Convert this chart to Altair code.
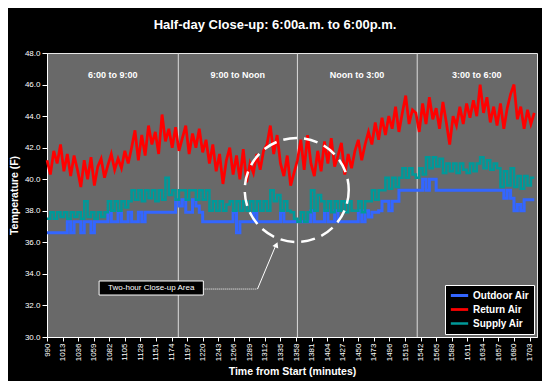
import altair as alt
import pandas as pd

# ---------------- data ----------------
minutes = list(range(990, 1711, 5))

outdoor_air = [
    36.6, 36.6, 36.6, 36.6, 36.6, 36.6,
    37.3, 36.6, 37.3, 37.3, 36.6, 37.3, 37.3, 36.6,
    37.3, 37.3, 37.3, 37.3, 37.9, 37.3, 37.3, 37.9, 37.3, 37.3, 37.9, 37.3, 37.3, 37.9, 37.3,
    37.9, 37.9, 37.9, 37.9, 37.9, 37.9, 37.9, 37.9, 37.9, 38.7, 38.3, 38.7, 37.9, 37.9, 38.7, 38.3, 37.9,
    37.3, 37.3, 37.3, 37.3, 37.3, 37.3, 37.3, 37.3, 37.3, 37.9, 36.6, 37.3, 37.3, 37.3, 37.3, 37.9,
    37.3, 37.3, 37.3, 37.3, 37.3, 37.3, 37.3, 37.9, 37.3, 37.3, 37.3, 37.3,
    37.3, 37.3, 37.3, 37.3, 38.0, 37.3, 37.3, 37.3, 38.0, 37.3, 37.3, 38.0, 37.3, 37.3, 37.3, 37.3,
    37.3, 37.3, 38.0, 37.3, 38.0, 37.6,
    37.9, 37.9, 38.0, 38.6, 38.6, 38.0, 38.6, 38.6,
    39.3, 39.3, 39.3, 39.3, 39.3, 39.3, 39.3, 40.0, 39.3, 40.0, 40.0,
    39.3, 39.3, 39.3, 39.3, 39.3, 39.3, 39.3, 39.3, 39.3, 39.3,
    39.3, 39.3, 39.3, 39.3, 39.3, 39.3, 39.3, 39.3, 39.3, 39.3,
    38.8, 39.3, 38.8, 38.0, 38.4, 38.0, 38.7, 38.7, 38.7, 38.7,
]

return_air = [
    41.2, 40.3, 41.8, 41.0, 42.2, 40.5, 41.6,
    40.2, 41.5, 40.6, 39.5, 41.2, 40.0, 41.4, 39.6, 40.8, 41.3, 40.1, 40.9,
    41.6, 40.6, 41.3, 40.7, 41.8, 41.0,
    42.0, 43.1, 41.2, 42.8, 41.5, 43.4, 42.2, 43.0, 41.6, 44.1, 42.4, 43.2,
    42.0, 43.3, 41.8, 42.6, 43.4, 41.6, 42.9, 42.0, 43.2, 41.7, 42.5,
    41.0, 42.2, 40.5, 41.6, 39.7, 41.2, 42.0, 40.3, 41.5,
    40.0, 41.9, 39.8, 41.0, 40.4, 41.6,
    40.6, 41.8,
    42.2, 43.4, 41.6, 42.8,
    41.0, 40.2, 41.5, 39.6, 40.4,
    41.2, 42.5, 40.6, 42.8, 41.0, 40.2, 41.8, 40.5, 42.4, 41.0, 42.6, 40.8, 41.5, 42.3, 40.3, 41.6, 40.7,
    41.8, 42.5, 41.2, 42.2,
    43.0, 42.2, 43.6, 42.5, 43.9, 42.8,
    44.0, 43.2, 44.6, 43.0, 44.2, 45.3, 43.5, 44.4,
    44.2, 43.0, 44.8, 43.5, 45.2, 43.8, 44.5, 43.2, 44.9, 43.6, 42.2, 44.0,
    43.4, 44.6, 43.5, 44.8, 43.9, 45.0, 44.0, 46.0, 44.2, 45.2, 43.6, 44.6,
    43.4, 44.8, 43.2, 44.5, 45.4, 46.0, 43.8, 44.6, 43.2, 44.4, 43.5, 44.2,
]

supply_air = [
    37.5, 37.9, 37.5, 37.9, 37.6, 37.9, 37.5, 37.9, 37.6, 37.9, 37.5, 38.6, 37.6, 37.9, 37.5, 37.9, 37.6, 37.9,
    38.6, 38.0, 38.6, 38.0, 38.6, 38.2,
    38.6, 39.3, 38.7, 39.3, 38.6, 39.3, 38.8, 39.3, 38.6, 39.3, 38.7, 40.1, 39.0,
    39.3, 38.7, 39.3, 39.3, 38.7, 39.3, 39.3, 38.7, 39.3, 38.7, 39.3,
    38.0, 38.6, 38.0, 38.6, 38.0, 38.4, 38.6, 38.0, 38.6, 38.0, 38.6, 38.0, 38.6,
    38.0, 38.6, 38.0, 38.6, 38.0, 39.3, 38.6, 39.0, 38.0, 38.6, 38.0, 37.9, 37.5,
    37.3, 37.9, 37.3, 37.9,
    39.3, 38.0, 39.0, 38.6,
    38.0, 38.6, 37.9, 38.6, 38.0, 38.6, 37.9, 38.6, 38.0,
    38.0, 38.6, 37.9, 38.6,
    38.6, 39.3, 38.7, 39.3,
    39.3, 40.1, 39.4, 40.1, 39.5,
    40.1, 40.7, 40.1, 40.7, 40.3,
    40.1, 40.7, 40.3,
    41.4, 40.7, 41.4, 40.8, 41.3,
    40.4, 41.0, 40.5, 41.0, 40.4, 41.0, 40.6, 40.4, 41.0, 40.5, 41.0,
    41.4, 40.7, 41.2, 40.6, 41.0,
    40.7, 39.5, 40.5, 39.6, 40.7,
    39.5, 40.2, 39.4, 40.2, 39.6, 40.1, 40.1,
]

series_names = ["Outdoor Air", "Return Air", "Supply Air"]
series_colors = ["#3366ff", "#ff0000", "#009999"]

x_tick_values = [990, 1013, 1036, 1059, 1082, 1105, 1128, 1151, 1174, 1197, 1220,
                 1243, 1266, 1289, 1312, 1335, 1358, 1381, 1404, 1427, 1450, 1473,
                 1496, 1519, 1542, 1565, 1588, 1611, 1634, 1657, 1680, 1703]
y_tick_values = [30, 32, 34, 36, 38, 40, 42, 44, 46, 48]

segment_bounds = [1184, 1360, 1537]
segment_labels = ["6:00 to 9:00", "9:00 to Noon", "Noon to 3:00", "3:00 to 6:00"]
segment_label_x = [1087, 1272, 1448, 1625]
segment_label_y = [46.6, 46.6, 46.6, 46.6]

circle_center = {"minute": [1359], "temp": [39.32]}
note_text = "Two-hour Close-up Area"
note_box = {"minute": [1067], "x2": [1221], "temp": [32.66], "y2": [33.55]}
connector_h = {"minute": [1221], "x2": [1301], "temp": [33.04]}
connector_s = {"minute": [1301], "x2": [1329], "temp": [33.04], "y2": [35.9]}
arrow_tip = {"minute": [1329], "temp": [35.85]}

# ---------------- build ----------------
n = len(minutes)
df = pd.DataFrame({
    "minute": minutes * 3,
    "temp": outdoor_air + return_air + supply_air,
    "series": [series_names[0]] * n + [series_names[1]] * n + [series_names[2]] * n,
})

FONT = "Liberation Sans"
x_scale = alt.Scale(domain=[990, 1714], nice=False, zero=False)
y_scale = alt.Scale(domain=[30, 48], nice=False, zero=False)

x_axis = alt.Axis(values=x_tick_values, format="d", title="Time from Start (minutes)",
                  labelAngle=270, labelFontSize=8, labelColor="white", labelFont=FONT,
                  tickColor="white", tickSize=4, labelPadding=2, domainColor="white",
                  grid=False, labelOverlap=False, labelFlush=False,
                  titleColor="white", titleFontSize=10.5, titleFont=FONT, titleFontWeight="bold",
                  titleY=34, titleBaseline="middle")
y_axis = alt.Axis(values=y_tick_values, format=".1f", title="Temperature (F)",
                  labelFontSize=8, labelColor="white", labelFont=FONT,
                  tickColor="white", tickSize=5, labelPadding=2, domainColor="white",
                  grid=False, titleColor="white", titleFontSize=10.5, titleFont=FONT,
                  titleFontWeight="bold", titleX=-33, titleBaseline="middle")

X = alt.X("minute:Q", scale=x_scale, axis=x_axis)
Y = alt.Y("temp:Q", scale=y_scale, axis=y_axis)

color_enc = alt.Color("series:N", scale=alt.Scale(domain=series_names, range=series_colors),
                      legend=alt.Legend(title=None, orient="none", legendX=398, legendY=232,
                                        fillColor="black", strokeColor="white", padding=4,
                                        symbolType="stroke", symbolStrokeWidth=3, symbolSize=300,
                                        clipHeight=13, labelColor="white", labelFontSize=10,
                                        labelFont=FONT, labelFontWeight="bold", rowPadding=1,
                                        labelOffset=3))
width_enc = alt.StrokeWidth("series:N", scale=alt.Scale(domain=series_names, range=[3, 2.5, 2]), legend=None)

steps = alt.Chart(df).transform_filter(
    alt.FieldOneOfPredicate(field="series", oneOf=["Outdoor Air", "Supply Air"])
).mark_line(interpolate="step-after").encode(x=X, y=Y, color=color_enc, strokeWidth=width_enc)

ret_line = alt.Chart(df).transform_filter(
    alt.FieldEqualPredicate(field="series", equal="Return Air")
).mark_line(interpolate="linear").encode(x=X, y=Y, color=color_enc, strokeWidth=width_enc)

rules = alt.Chart(pd.DataFrame({"minute": segment_bounds})).mark_rule(color="#dcdcdc", strokeWidth=1).encode(x=X)

seg_text = alt.Chart(pd.DataFrame({"minute": segment_label_x, "temp": segment_label_y, "t": segment_labels})).mark_text(
    color="white", fontSize=9, fontWeight="bold", font=FONT
).encode(x=X, y=Y, text="t:N")

circle = alt.Chart(pd.DataFrame(circle_center)).mark_point(
    shape="circle", filled=False, size=10816, color="white", strokeWidth=2.5, strokeDash=[14, 7], opacity=1
).encode(x=X, y=Y)

box = alt.Chart(pd.DataFrame(note_box)).mark_rect(fill="black", stroke="white", strokeWidth=1).encode(
    x=X, x2="x2:Q", y=Y, y2="y2:Q",
)
box_text = alt.Chart(pd.DataFrame({"minute": [(note_box["minute"][0] + note_box["x2"][0]) / 2],
                                   "temp": [(note_box["temp"][0] + note_box["y2"][0]) / 2],
                                   "t": [note_text]})).mark_text(
    color="white", fontSize=8, font=FONT
).encode(x=X, y=Y, text="t:N")

conn_h = alt.Chart(pd.DataFrame(connector_h)).mark_rule(color="white", strokeWidth=1, strokeDash=[1, 1]).encode(
    x=X, x2="x2:Q", y=Y
)
conn_s = alt.Chart(pd.DataFrame(connector_s)).mark_rule(color="white", strokeWidth=1).encode(
    x=X, x2="x2:Q", y=Y, y2="y2:Q",
)
arrow = alt.Chart(pd.DataFrame(arrow_tip)).mark_point(
    shape="triangle-up", filled=True, color="white", size=40, angle=23, opacity=1
).encode(x=X, y=Y)

chart = alt.layer(rules, steps, ret_line, seg_text, circle, conn_h, conn_s, arrow, box, box_text).properties(
    width=490, height=284,
    autosize=alt.AutoSizeParams(type="none"),
    padding={"left": 39, "top": 45, "right": 5, "bottom": 44},
    background="black",
    title=alt.Title("Half-day Close-up:  6:00a.m. to 6:00p.m.", color="white", fontSize=13,
                    font=FONT, fontWeight="bold", anchor="middle", frame="group", dx=-17, offset=17),
).configure_view(fill="#696969", stroke="#e8e8e8", strokeWidth=1)

chart.save("out.html", embed_options={"renderer": "svg", "actions": False})
